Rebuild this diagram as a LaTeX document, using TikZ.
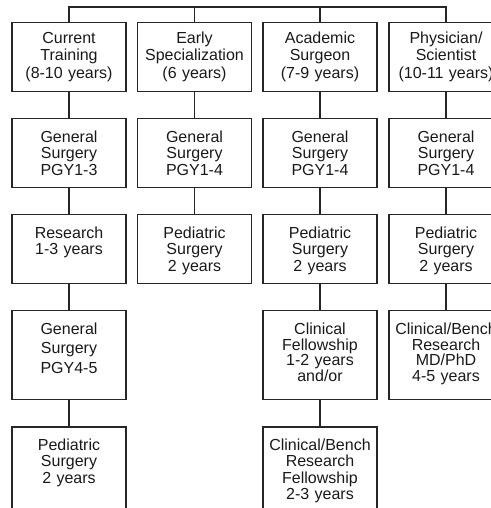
\documentclass[tikz,border=0pt]{standalone}
\usepackage{fontspec}
\setmainfont{Liberation Sans}
\usetikzlibrary{positioning}

\begin{document}
\begin{tikzpicture}[x=1pt, y=1pt,
    box/.style={draw=black!85, line width=1.1pt, text width=114pt, align=center,
                inner sep=0pt, anchor=north, text height=23.5pt, text depth=45.5pt,
                text=black!90, font=\fontsize{16}{16.5}\selectfont},
    head/.style={text height=20.5pt, text depth=48.5pt, font=\fontsize{16}{17.5}\selectfont},
    tall/.style={text depth=65.5pt},
    last/.style={text depth=80pt},
    link/.style={draw=black!85, line width=1.1pt},
]
\useasboundingbox (0,0) rectangle (490,-508);

% ===== Top row: the four tracks =====
\node[box, head] at (69,-22) (cur) {Current\\Training\\(8-10 years)};
\node[box, head] at (194.5,-22) (early) {Early\\Specialization\\(6 years)};
\node[box, head] at (320,-22) (acad) {Academic\\Surgeon\\(7-9 years)};
\node[box, head] at (446,-22) (phys) {Physician/\\Scientist\\(10-11 years)};
\coordinate (bus) at (0,-7);

% ===== Current training =====
\node[box, below=26pt of cur] (gs13) {General\\Surgery\\PGY1-3};
\node[box, below=26pt of gs13] (res) {Research\\1-3 years};
\node[box, tall, below=26pt of res, font=\fontsize{16}{19.5}\selectfont] (gs45) {General\\Surgery\\PGY4-5};
\node[box, last, below=26pt of gs45] (pedA) {Pediatric\\Surgery\\2 years};

% ===== Early specialization =====
\node[box, below=26pt of early] (gsB) {General\\Surgery\\PGY1-4};
\node[box, below=26pt of gsB] (pedB) {Pediatric\\Surgery\\2 years};

% ===== Academic surgeon =====
\node[box, below=26pt of acad] (gsC) {General\\Surgery\\PGY1-4};
\node[box, below=26pt of gsC] (pedC) {Pediatric\\Surgery\\2 years};
\node[box, tall, below=26pt of pedC, font=\fontsize{16}{15.7}\selectfont] (clin) {Clinical\\Fellowship\\1-2 years\\and/or};
\node[box, last, below=26pt of clin] (bench) {Clinical/Bench\\Research\\Fellowship\\2-3 years};

% ===== Physician/scientist =====
\node[box, below=26pt of phys] (gsD) {General\\Surgery\\PGY1-4};
\node[box, below=26pt of gsD] (pedD) {Pediatric\\Surgery\\2 years};
\node[box, tall, below=26pt of pedD, font=\fontsize{16}{15.7}\selectfont] (mdphd) {Clinical/Bench\\Research\\MD/PhD\\4-5 years};

% ===== Connectors =====
\draw[link] (cur.north) |- (phys.north |- bus) -- (phys.north);
\draw[link] (early.north) -- (early.north |- bus);
\draw[link] (acad.north) -- (acad.north |- bus);
\foreach \a/\b in {cur/gs13, gs13/res, res/gs45, gs45/pedA,
                   early/gsB, gsB/pedB,
                   acad/gsC, gsC/pedC, pedC/clin, clin/bench,
                   phys/gsD, gsD/pedD, pedD/mdphd}
  \draw[link] (\a) -- (\b);

\end{tikzpicture}
\end{document}
